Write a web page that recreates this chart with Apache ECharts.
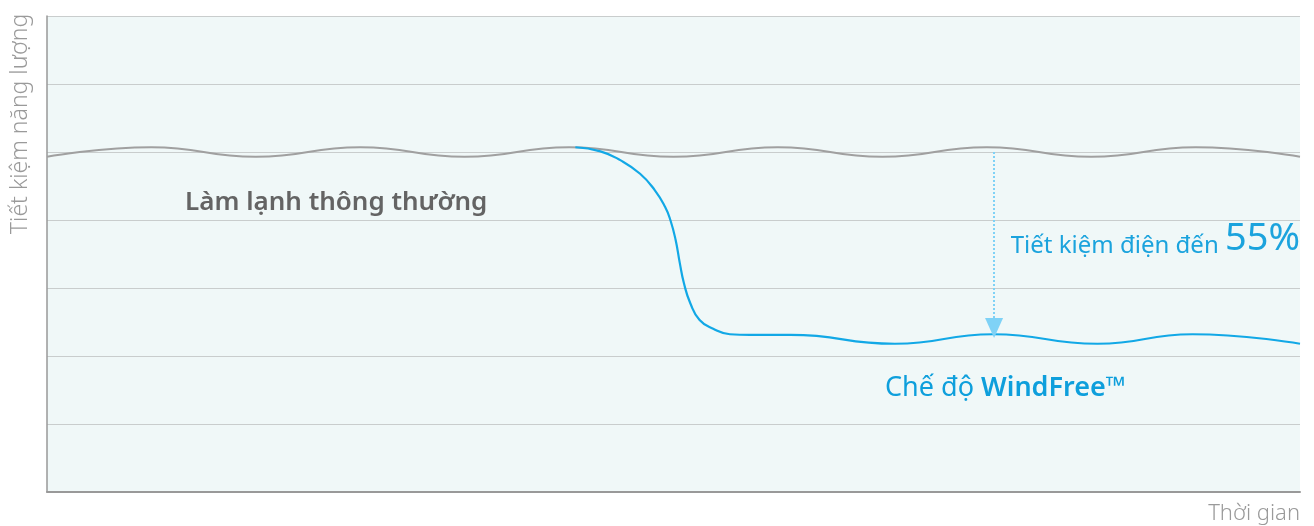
<!DOCTYPE html>
<html>
<head>
<meta charset="utf-8">
<script src="https://cdn.jsdelivr.net/npm/echarts@6/dist/echarts.min.js"></script>
<style>
  html, body { margin: 0; padding: 0; background: #fff; }
  #chart { width: 1314px; height: 526px; }
</style>
</head>
<body>
<div id="chart"></div>
<script>
// đường làm lạnh thông thường (dao động nhẹ quanh mức 5)
var normalX = [0, 1, 2, 3, 4, 5, 6, 7, 8, 9, 10, 11, 12];
var normalY = [4.93, 5.07, 4.93, 5.07, 4.93, 5.07, 4.93, 5.07, 4.93, 5.07, 4.93, 5.07, 4.93];

// đường WindFree: tách ra tại đỉnh x=5 rồi giảm xuống
var windX = [5.06, 5.30, 5.49, 5.68, 5.82, 5.92, 5.97, 6.02, 6.06, 6.10, 6.16, 6.25, 6.38, 6.54, 6.73, 7.12, 8.12, 9.06, 10.06, 10.97, 12];
var windY = [5.07, 5.01, 4.88, 4.68, 4.44, 4.19, 4.00, 3.71, 3.37, 3.07, 2.78, 2.53, 2.40, 2.32, 2.31, 2.31, 2.18, 2.32, 2.18, 2.32, 2.18];

// mũi tên tiết kiệm
var savingX = 9.07;
var savingFrom = 5.0;
var savingTo = 2.41;

var yTicks = [0, 7, 1];

function pairs(xs, ys) {
    return xs.map(function (x, i) { return [x, ys[i]]; });
}

var font = '"Noto Sans", "Open Sans", sans-serif';
var chart = echarts.init(document.getElementById('chart'));

chart.setOption({
    animation: false,
    grid: {
        left: 47,
        right: 14,
        top: 16,
        bottom: 34,
        show: true,
        backgroundColor: '#f0f8f8',
        borderWidth: 0
    },
    xAxis: {
        type: 'value',
        min: 0,
        max: 12,
        axisLine: { show: true, lineStyle: { color: '#999', width: 2 } },
        axisTick: { show: false },
        axisLabel: { show: false },
        splitLine: { show: false }
    },
    yAxis: {
        type: 'value',
        min: yTicks[0],
        max: yTicks[1],
        interval: yTicks[2],
        axisLine: { show: true, lineStyle: { color: '#999', width: 1.5 } },
        axisTick: { show: false },
        axisLabel: { show: false },
        splitLine: { show: true, lineStyle: { color: '#c9cdcd', width: 1.2 } }
    },
    series: [
        {
            name: 'Làm lạnh thông thường',
            type: 'line',
            data: pairs(normalX, normalY),
            smooth: true,
            symbol: 'none',
            lineStyle: { color: '#a0a0a0', width: 2 },
            z: 2
        },
        {
            name: 'WindFree',
            type: 'line',
            data: pairs(windX, windY),
            smooth: 0.5,
            symbol: 'none',
            lineStyle: { color: '#12a8e6', width: 2.2 },
            z: 3,
            markLine: {
                silent: true,
                symbol: ['none', 'triangle'],
                symbolSize: [18, 20],
                label: { show: false },
                lineStyle: { color: '#7fd2f6', width: 2, type: 'dotted' },
                data: [[{ coord: [savingX, savingFrom] }, { coord: [savingX, savingTo] }]]
            }
        }
    ],
    graphic: [
        {
            type: 'text',
            x: 20,
            y: 124,
            rotation: Math.PI / 2,
            style: {
                text: 'Tiết kiệm năng lượng',
                font: '300 23px ' + font,
                fill: '#9a9a9a',
                align: 'center',
                verticalAlign: 'middle'
            }
        },
        {
            type: 'text',
            x: 1300,
            y: 514,
            style: {
                text: 'Thời gian',
                font: '300 22px ' + font,
                fill: '#9a9a9a',
                align: 'right',
                verticalAlign: 'middle'
            }
        },
        {
            type: 'text',
            x: 185,
            y: 203,
            style: {
                text: 'Làm lạnh thông thường',
                font: '600 26px ' + font,
                fill: '#646464',
                align: 'left',
                verticalAlign: 'middle'
            }
        },
        {
            type: 'text',
            x: 1300,
            y: 239,
            style: {
                text: '{a|Tiết kiệm điện đến }{b|55%}',
                align: 'right',
                verticalAlign: 'middle',
                rich: {
                    a: { font: '24px ' + font, fill: '#1ba3dd', verticalAlign: 'bottom' },
                    b: { font: '38px ' + font, fill: '#1ba3dd', verticalAlign: 'bottom' }
                }
            }
        },
        {
            type: 'text',
            x: 885,
            y: 388,
            style: {
                text: '{a|Chế độ }{b|WindFree}{c|™}',
                align: 'left',
                verticalAlign: 'middle',
                rich: {
                    a: { font: '27px ' + font, fill: '#0e9fdc' },
                    b: { font: '600 27px ' + font, fill: '#0e9fdc' },
                    c: { font: '26px ' + font, fill: '#0e9fdc', verticalAlign: 'top' }
                }
            }
        }
    ]
});
</script>
</body>
</html>
